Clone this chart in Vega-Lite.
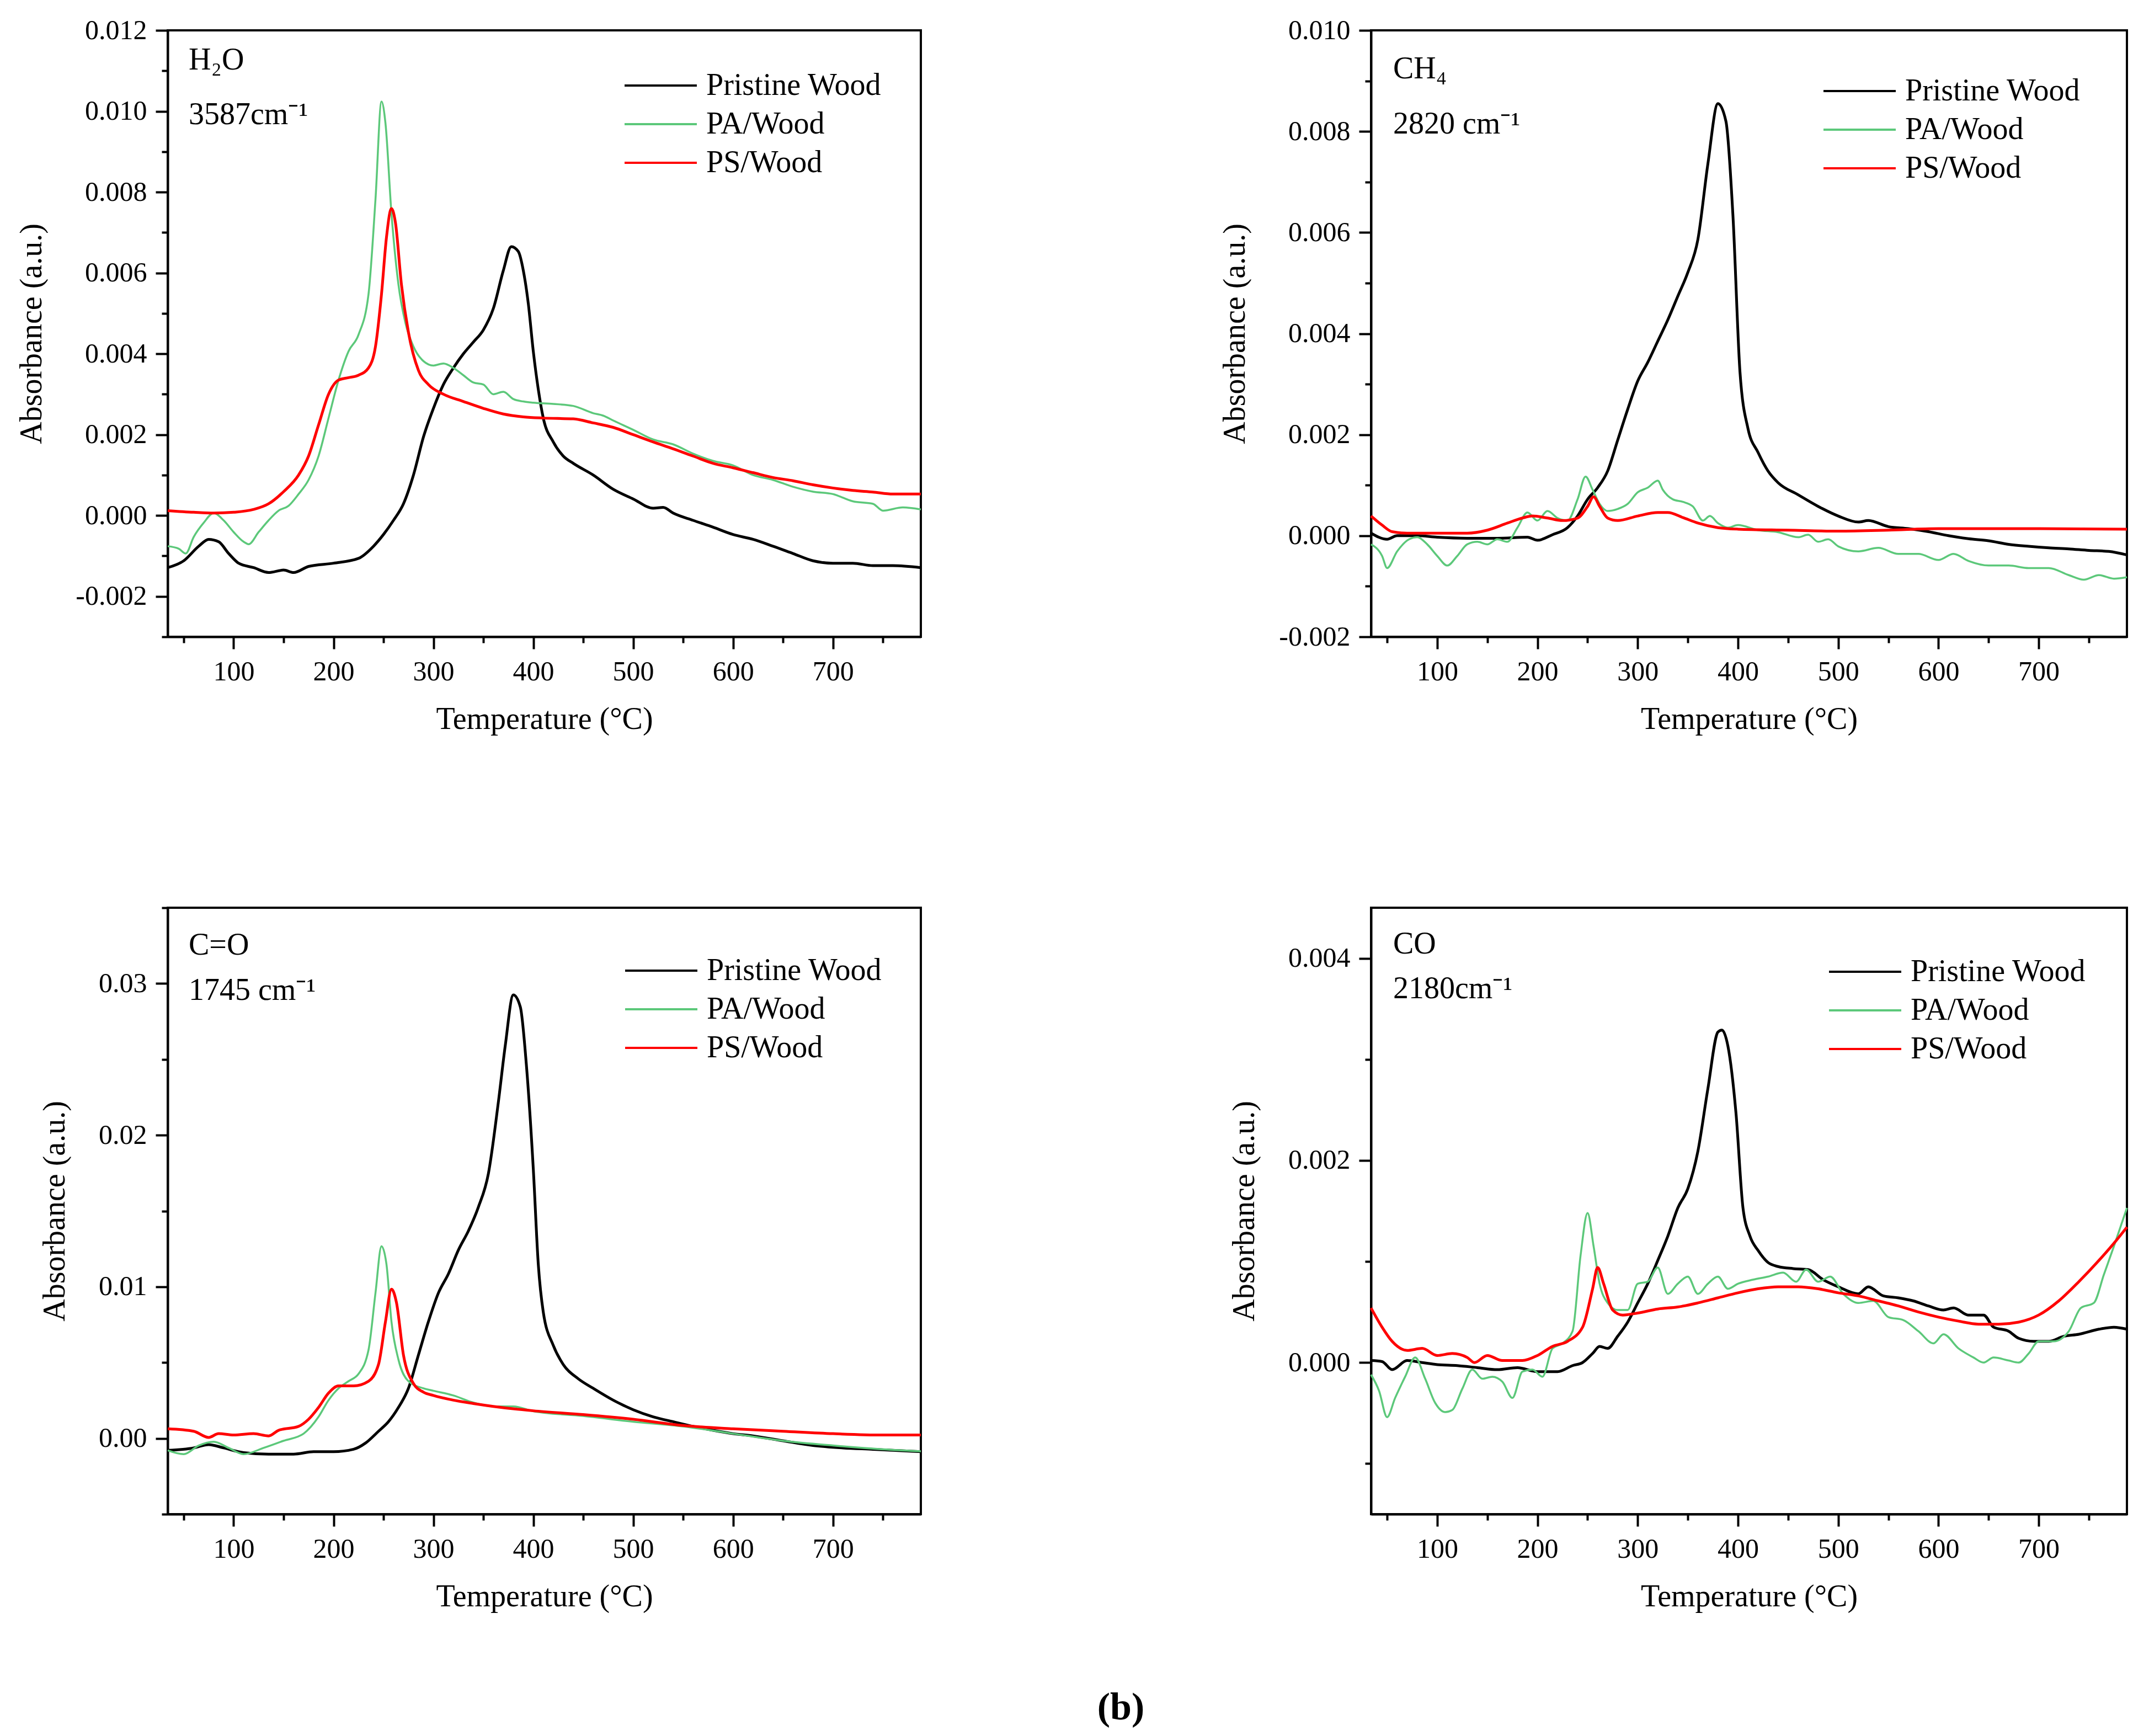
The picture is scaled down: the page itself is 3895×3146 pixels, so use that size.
{
  "$schema": "https://vega.github.io/schema/vega-lite/v6.json",
  "background": "white",
  "padding": {"left": 27, "top": 28, "right": 5, "bottom": 5},
  "title": {"text": "(b)", "orient": "bottom", "anchor": "middle", "fontSize": 70, "fontWeight": "bold", "font": "Liberation Serif", "color": "black", "offset": 138, "dx": 84},
  "config": {
    "font": "Liberation Serif",
    "view": {"stroke": "black", "strokeWidth": 4},
    "axis": {
      "grid": false, "domainColor": "black", "domainWidth": 4, "tickColor": "black", "tickWidth": 4,
      "labelFont": "Liberation Serif", "labelFontSize": 50, "labelColor": "black", "labelPadding": 16,
      "labelOverlap": false, "labelFlush": false, "labelBound": false,
      "titleFont": "Liberation Serif", "titleFontSize": 56, "titleFontWeight": "normal", "titleColor": "black"
    },
    "axisX": {"titlePadding": 34},
    "axisY": {"titlePadding": 50},
    "legend": {
      "title": null, "symbolType": "stroke", "symbolSize": 17161, "symbolStrokeWidth": 4,
      "labelFont": "Liberation Serif", "labelFontSize": 56, "labelColor": "black", "labelOffset": 15, "labelLimit": 0,
      "clipHeight": 56, "rowPadding": 14, "padding": 0
    },
    "text": {"font": "Liberation Serif", "fontSize": 56, "color": "black", "align": "left", "baseline": "middle"}
  },
  "resolve": {"scale": {"color": "independent"}, "legend": {"color": "independent"}},
  "datasets": {
    "h2o": [
      {"s":"Pristine Wood","T":34,"A":-0.00129},{"s":"Pristine Wood","T":50,"A":-0.00112},{"s":"Pristine Wood","T":65,"A":-0.00076},{"s":"Pristine Wood","T":75,"A":-0.00059},{"s":"Pristine Wood","T":85,"A":-0.00065},{"s":"Pristine Wood","T":95,"A":-0.00094},{"s":"Pristine Wood","T":105,"A":-0.00118},{"s":"Pristine Wood","T":120,"A":-0.00129},{"s":"Pristine Wood","T":135,"A":-0.00141},{"s":"Pristine Wood","T":150,"A":-0.00135},{"s":"Pristine Wood","T":160,"A":-0.00141},{"s":"Pristine Wood","T":175,"A":-0.00126},{"s":"Pristine Wood","T":200,"A":-0.00118},{"s":"Pristine Wood","T":225,"A":-0.00106},{"s":"Pristine Wood","T":240,"A":-0.00076},{"s":"Pristine Wood","T":250,"A":-0.00047},{"s":"Pristine Wood","T":260,"A":-0.00012},{"s":"Pristine Wood","T":270,"A":0.00029},{"s":"Pristine Wood","T":280,"A":0.001},{"s":"Pristine Wood","T":290,"A":0.00194},{"s":"Pristine Wood","T":300,"A":0.00265},{"s":"Pristine Wood","T":310,"A":0.00324},{"s":"Pristine Wood","T":320,"A":0.00365},{"s":"Pristine Wood","T":330,"A":0.004},{"s":"Pristine Wood","T":340,"A":0.00429},{"s":"Pristine Wood","T":350,"A":0.00459},{"s":"Pristine Wood","T":360,"A":0.00512},{"s":"Pristine Wood","T":370,"A":0.00606},{"s":"Pristine Wood","T":378,"A":0.00665},{"s":"Pristine Wood","T":385,"A":0.00653},{"s":"Pristine Wood","T":390,"A":0.00606},{"s":"Pristine Wood","T":395,"A":0.00524},{"s":"Pristine Wood","T":400,"A":0.00406},{"s":"Pristine Wood","T":405,"A":0.00312},{"s":"Pristine Wood","T":410,"A":0.00241},{"s":"Pristine Wood","T":420,"A":0.00182},{"s":"Pristine Wood","T":430,"A":0.00147},{"s":"Pristine Wood","T":440,"A":0.00129},{"s":"Pristine Wood","T":460,"A":0.001},{"s":"Pristine Wood","T":480,"A":0.00065},{"s":"Pristine Wood","T":500,"A":0.00041},{"s":"Pristine Wood","T":520,"A":0.00018},{"s":"Pristine Wood","T":530,"A":0.0002},{"s":"Pristine Wood","T":540,"A":0.00006},{"s":"Pristine Wood","T":560,"A":-0.00012},{"s":"Pristine Wood","T":580,"A":-0.00029},{"s":"Pristine Wood","T":600,"A":-0.00047},{"s":"Pristine Wood","T":620,"A":-0.00059},{"s":"Pristine Wood","T":640,"A":-0.00076},{"s":"Pristine Wood","T":660,"A":-0.00094},{"s":"Pristine Wood","T":680,"A":-0.00112},{"s":"Pristine Wood","T":700,"A":-0.00118},{"s":"Pristine Wood","T":720,"A":-0.00118},{"s":"Pristine Wood","T":740,"A":-0.00124},{"s":"Pristine Wood","T":760,"A":-0.00124},{"s":"Pristine Wood","T":788,"A":-0.00129},
      {"s":"PA/Wood","T":34,"A":-0.00076},{"s":"PA/Wood","T":45,"A":-0.00082},{"s":"PA/Wood","T":52,"A":-0.00094},{"s":"PA/Wood","T":60,"A":-0.00053},{"s":"PA/Wood","T":70,"A":-0.00018},{"s":"PA/Wood","T":80,"A":0.00006},{"s":"PA/Wood","T":90,"A":-0.00012},{"s":"PA/Wood","T":100,"A":-0.00041},{"s":"PA/Wood","T":110,"A":-0.00065},{"s":"PA/Wood","T":115,"A":-0.00071},{"s":"PA/Wood","T":125,"A":-0.00041},{"s":"PA/Wood","T":135,"A":-0.00012},{"s":"PA/Wood","T":145,"A":0.00012},{"s":"PA/Wood","T":155,"A":0.00024},{"s":"PA/Wood","T":165,"A":0.00053},{"s":"PA/Wood","T":175,"A":0.00088},{"s":"PA/Wood","T":185,"A":0.00147},{"s":"PA/Wood","T":195,"A":0.00241},{"s":"PA/Wood","T":205,"A":0.00335},{"s":"PA/Wood","T":215,"A":0.00406},{"s":"PA/Wood","T":225,"A":0.00447},{"s":"PA/Wood","T":235,"A":0.00547},{"s":"PA/Wood","T":242,"A":0.00782},{"s":"PA/Wood","T":248,"A":0.01024},{"s":"PA/Wood","T":252,"A":0.0097},{"s":"PA/Wood","T":258,"A":0.00747},{"s":"PA/Wood","T":265,"A":0.00571},{"s":"PA/Wood","T":272,"A":0.00476},{"s":"PA/Wood","T":280,"A":0.00418},{"s":"PA/Wood","T":290,"A":0.00382},{"s":"PA/Wood","T":300,"A":0.00371},{"s":"PA/Wood","T":310,"A":0.00376},{"s":"PA/Wood","T":320,"A":0.00365},{"s":"PA/Wood","T":330,"A":0.00347},{"s":"PA/Wood","T":340,"A":0.00329},{"s":"PA/Wood","T":350,"A":0.00324},{"s":"PA/Wood","T":360,"A":0.003},{"s":"PA/Wood","T":370,"A":0.00306},{"s":"PA/Wood","T":380,"A":0.00288},{"s":"PA/Wood","T":390,"A":0.00282},{"s":"PA/Wood","T":400,"A":0.00279},{"s":"PA/Wood","T":420,"A":0.00276},{"s":"PA/Wood","T":440,"A":0.00271},{"s":"PA/Wood","T":460,"A":0.00253},{"s":"PA/Wood","T":470,"A":0.00247},{"s":"PA/Wood","T":480,"A":0.00235},{"s":"PA/Wood","T":500,"A":0.00212},{"s":"PA/Wood","T":520,"A":0.00188},{"s":"PA/Wood","T":540,"A":0.00176},{"s":"PA/Wood","T":560,"A":0.00153},{"s":"PA/Wood","T":580,"A":0.00135},{"s":"PA/Wood","T":600,"A":0.00124},{"s":"PA/Wood","T":620,"A":0.001},{"s":"PA/Wood","T":640,"A":0.00088},{"s":"PA/Wood","T":660,"A":0.00071},{"s":"PA/Wood","T":680,"A":0.00059},{"s":"PA/Wood","T":700,"A":0.00053},{"s":"PA/Wood","T":720,"A":0.00035},{"s":"PA/Wood","T":740,"A":0.00029},{"s":"PA/Wood","T":750,"A":0.00012},{"s":"PA/Wood","T":770,"A":0.0002},{"s":"PA/Wood","T":788,"A":0.00015},
      {"s":"PS/Wood","T":34,"A":0.00012},{"s":"PS/Wood","T":60,"A":0.00008},{"s":"PS/Wood","T":80,"A":0.00006},{"s":"PS/Wood","T":100,"A":0.00008},{"s":"PS/Wood","T":120,"A":0.00015},{"s":"PS/Wood","T":135,"A":0.00029},{"s":"PS/Wood","T":150,"A":0.00059},{"s":"PS/Wood","T":165,"A":0.001},{"s":"PS/Wood","T":175,"A":0.00147},{"s":"PS/Wood","T":185,"A":0.00224},{"s":"PS/Wood","T":195,"A":0.003},{"s":"PS/Wood","T":205,"A":0.00335},{"s":"PS/Wood","T":215,"A":0.00341},{"s":"PS/Wood","T":225,"A":0.00347},{"s":"PS/Wood","T":235,"A":0.00365},{"s":"PS/Wood","T":242,"A":0.00418},{"s":"PS/Wood","T":248,"A":0.00547},{"s":"PS/Wood","T":253,"A":0.00688},{"s":"PS/Wood","T":258,"A":0.00759},{"s":"PS/Wood","T":262,"A":0.00724},{"s":"PS/Wood","T":268,"A":0.00571},{"s":"PS/Wood","T":275,"A":0.00453},{"s":"PS/Wood","T":285,"A":0.00359},{"s":"PS/Wood","T":295,"A":0.00324},{"s":"PS/Wood","T":310,"A":0.003},{"s":"PS/Wood","T":330,"A":0.00282},{"s":"PS/Wood","T":350,"A":0.00265},{"s":"PS/Wood","T":370,"A":0.00251},{"s":"PS/Wood","T":390,"A":0.00244},{"s":"PS/Wood","T":410,"A":0.00241},{"s":"PS/Wood","T":440,"A":0.00239},{"s":"PS/Wood","T":460,"A":0.00229},{"s":"PS/Wood","T":480,"A":0.00218},{"s":"PS/Wood","T":500,"A":0.002},{"s":"PS/Wood","T":520,"A":0.00182},{"s":"PS/Wood","T":540,"A":0.00165},{"s":"PS/Wood","T":560,"A":0.00147},{"s":"PS/Wood","T":580,"A":0.00129},{"s":"PS/Wood","T":600,"A":0.00118},{"s":"PS/Wood","T":620,"A":0.00106},{"s":"PS/Wood","T":640,"A":0.00094},{"s":"PS/Wood","T":660,"A":0.00086},{"s":"PS/Wood","T":680,"A":0.00076},{"s":"PS/Wood","T":700,"A":0.00068},{"s":"PS/Wood","T":720,"A":0.00062},{"s":"PS/Wood","T":740,"A":0.00058},{"s":"PS/Wood","T":760,"A":0.00053},{"s":"PS/Wood","T":788,"A":0.00053}
    ],
    "ch4": [
      {"s":"Pristine Wood","T":34,"A":0.00005},{"s":"Pristine Wood","T":50,"A":-0.00007},{"s":"Pristine Wood","T":60,"A":0},{"s":"Pristine Wood","T":80,"A":0},{"s":"Pristine Wood","T":100,"A":-0.00003},{"s":"Pristine Wood","T":130,"A":-0.00005},{"s":"Pristine Wood","T":160,"A":-0.00005},{"s":"Pristine Wood","T":190,"A":-0.00003},{"s":"Pristine Wood","T":200,"A":-0.00009},{"s":"Pristine Wood","T":215,"A":0.00002},{"s":"Pristine Wood","T":230,"A":0.00016},{"s":"Pristine Wood","T":240,"A":0.00039},{"s":"Pristine Wood","T":250,"A":0.00072},{"s":"Pristine Wood","T":260,"A":0.00095},{"s":"Pristine Wood","T":270,"A":0.00128},{"s":"Pristine Wood","T":280,"A":0.00189},{"s":"Pristine Wood","T":290,"A":0.0025},{"s":"Pristine Wood","T":300,"A":0.00306},{"s":"Pristine Wood","T":310,"A":0.00343},{"s":"Pristine Wood","T":320,"A":0.00385},{"s":"Pristine Wood","T":330,"A":0.00427},{"s":"Pristine Wood","T":340,"A":0.00474},{"s":"Pristine Wood","T":350,"A":0.00521},{"s":"Pristine Wood","T":360,"A":0.00586},{"s":"Pristine Wood","T":370,"A":0.00736},{"s":"Pristine Wood","T":380,"A":0.00855},{"s":"Pristine Wood","T":388,"A":0.0082},{"s":"Pristine Wood","T":395,"A":0.00633},{"s":"Pristine Wood","T":402,"A":0.00324},{"s":"Pristine Wood","T":410,"A":0.00212},{"s":"Pristine Wood","T":420,"A":0.00165},{"s":"Pristine Wood","T":430,"A":0.00128},{"s":"Pristine Wood","T":440,"A":0.00105},{"s":"Pristine Wood","T":460,"A":0.00081},{"s":"Pristine Wood","T":480,"A":0.00058},{"s":"Pristine Wood","T":500,"A":0.00039},{"s":"Pristine Wood","T":520,"A":0.00027},{"s":"Pristine Wood","T":530,"A":0.0003},{"s":"Pristine Wood","T":550,"A":0.00018},{"s":"Pristine Wood","T":570,"A":0.00014},{"s":"Pristine Wood","T":590,"A":0.00008},{"s":"Pristine Wood","T":610,"A":0},{"s":"Pristine Wood","T":630,"A":-0.00006},{"s":"Pristine Wood","T":650,"A":-0.0001},{"s":"Pristine Wood","T":670,"A":-0.00017},{"s":"Pristine Wood","T":690,"A":-0.00021},{"s":"Pristine Wood","T":710,"A":-0.00024},{"s":"Pristine Wood","T":730,"A":-0.00026},{"s":"Pristine Wood","T":750,"A":-0.00029},{"s":"Pristine Wood","T":770,"A":-0.00031},{"s":"Pristine Wood","T":788,"A":-0.00038},
      {"s":"PA/Wood","T":34,"A":-0.00017},{"s":"PA/Wood","T":45,"A":-0.0004},{"s":"PA/Wood","T":50,"A":-0.00064},{"s":"PA/Wood","T":60,"A":-0.00031},{"s":"PA/Wood","T":72,"A":-0.00007},{"s":"PA/Wood","T":80,"A":-0.00003},{"s":"PA/Wood","T":90,"A":-0.00017},{"s":"PA/Wood","T":100,"A":-0.0004},{"s":"PA/Wood","T":110,"A":-0.00059},{"s":"PA/Wood","T":120,"A":-0.0004},{"s":"PA/Wood","T":130,"A":-0.00017},{"s":"PA/Wood","T":140,"A":-0.00012},{"s":"PA/Wood","T":150,"A":-0.00017},{"s":"PA/Wood","T":160,"A":-0.00007},{"s":"PA/Wood","T":170,"A":-0.00012},{"s":"PA/Wood","T":180,"A":0.00016},{"s":"PA/Wood","T":190,"A":0.00046},{"s":"PA/Wood","T":200,"A":0.0003},{"s":"PA/Wood","T":210,"A":0.00049},{"s":"PA/Wood","T":220,"A":0.00035},{"s":"PA/Wood","T":230,"A":0.0003},{"s":"PA/Wood","T":240,"A":0.00072},{"s":"PA/Wood","T":248,"A":0.00117},{"s":"PA/Wood","T":255,"A":0.00091},{"s":"PA/Wood","T":262,"A":0.00063},{"s":"PA/Wood","T":270,"A":0.00049},{"s":"PA/Wood","T":280,"A":0.00053},{"s":"PA/Wood","T":290,"A":0.00063},{"s":"PA/Wood","T":300,"A":0.00086},{"s":"PA/Wood","T":310,"A":0.00095},{"s":"PA/Wood","T":320,"A":0.00109},{"s":"PA/Wood","T":325,"A":0.00091},{"s":"PA/Wood","T":335,"A":0.00072},{"s":"PA/Wood","T":345,"A":0.00067},{"s":"PA/Wood","T":355,"A":0.00058},{"s":"PA/Wood","T":365,"A":0.0003},{"s":"PA/Wood","T":372,"A":0.00039},{"s":"PA/Wood","T":380,"A":0.00025},{"s":"PA/Wood","T":390,"A":0.00016},{"s":"PA/Wood","T":400,"A":0.00021},{"s":"PA/Wood","T":420,"A":0.00011},{"s":"PA/Wood","T":440,"A":0.00007},{"s":"PA/Wood","T":460,"A":-0.00003},{"s":"PA/Wood","T":470,"A":0.00002},{"s":"PA/Wood","T":480,"A":-0.00012},{"s":"PA/Wood","T":490,"A":-0.00007},{"s":"PA/Wood","T":500,"A":-0.00021},{"s":"PA/Wood","T":520,"A":-0.00031},{"s":"PA/Wood","T":540,"A":-0.00024},{"s":"PA/Wood","T":560,"A":-0.00036},{"s":"PA/Wood","T":580,"A":-0.00036},{"s":"PA/Wood","T":600,"A":-0.00048},{"s":"PA/Wood","T":615,"A":-0.00036},{"s":"PA/Wood","T":630,"A":-0.0005},{"s":"PA/Wood","T":650,"A":-0.00059},{"s":"PA/Wood","T":670,"A":-0.00059},{"s":"PA/Wood","T":690,"A":-0.00064},{"s":"PA/Wood","T":710,"A":-0.00064},{"s":"PA/Wood","T":730,"A":-0.00078},{"s":"PA/Wood","T":745,"A":-0.00087},{"s":"PA/Wood","T":760,"A":-0.00078},{"s":"PA/Wood","T":775,"A":-0.00085},{"s":"PA/Wood","T":788,"A":-0.00082},
      {"s":"PS/Wood","T":34,"A":0.00039},{"s":"PS/Wood","T":45,"A":0.00021},{"s":"PS/Wood","T":55,"A":0.00008},{"s":"PS/Wood","T":70,"A":0.00005},{"s":"PS/Wood","T":100,"A":0.00005},{"s":"PS/Wood","T":130,"A":0.00005},{"s":"PS/Wood","T":150,"A":0.00011},{"s":"PS/Wood","T":170,"A":0.00025},{"s":"PS/Wood","T":185,"A":0.00035},{"s":"PS/Wood","T":195,"A":0.00039},{"s":"PS/Wood","T":210,"A":0.00035},{"s":"PS/Wood","T":225,"A":0.0003},{"s":"PS/Wood","T":240,"A":0.00035},{"s":"PS/Wood","T":250,"A":0.00058},{"s":"PS/Wood","T":256,"A":0.00077},{"s":"PS/Wood","T":262,"A":0.00058},{"s":"PS/Wood","T":270,"A":0.00035},{"s":"PS/Wood","T":280,"A":0.0003},{"s":"PS/Wood","T":300,"A":0.00039},{"s":"PS/Wood","T":320,"A":0.00046},{"s":"PS/Wood","T":330,"A":0.00046},{"s":"PS/Wood","T":345,"A":0.00036},{"s":"PS/Wood","T":360,"A":0.00025},{"s":"PS/Wood","T":380,"A":0.00016},{"s":"PS/Wood","T":400,"A":0.00013},{"s":"PS/Wood","T":450,"A":0.00011},{"s":"PS/Wood","T":500,"A":0.00009},{"s":"PS/Wood","T":550,"A":0.00011},{"s":"PS/Wood","T":600,"A":0.00014},{"s":"PS/Wood","T":650,"A":0.00014},{"s":"PS/Wood","T":700,"A":0.00014},{"s":"PS/Wood","T":788,"A":0.00013}
    ],
    "cdo": [
      {"s":"Pristine Wood","T":34,"A":-0.00079},{"s":"Pristine Wood","T":60,"A":-0.00063},{"s":"Pristine Wood","T":75,"A":-0.00041},{"s":"Pristine Wood","T":90,"A":-0.00063},{"s":"Pristine Wood","T":110,"A":-0.00094},{"s":"Pristine Wood","T":135,"A":-0.00104},{"s":"Pristine Wood","T":160,"A":-0.00104},{"s":"Pristine Wood","T":180,"A":-0.00088},{"s":"Pristine Wood","T":200,"A":-0.00088},{"s":"Pristine Wood","T":220,"A":-0.00072},{"s":"Pristine Wood","T":232,"A":-0.00031},{"s":"Pristine Wood","T":245,"A":0.00047},{"s":"Pristine Wood","T":255,"A":0.0011},{"s":"Pristine Wood","T":265,"A":0.00204},{"s":"Pristine Wood","T":275,"A":0.0033},{"s":"Pristine Wood","T":285,"A":0.0055},{"s":"Pristine Wood","T":295,"A":0.0077},{"s":"Pristine Wood","T":305,"A":0.00959},{"s":"Pristine Wood","T":315,"A":0.01085},{"s":"Pristine Wood","T":325,"A":0.01242},{"s":"Pristine Wood","T":335,"A":0.01368},{"s":"Pristine Wood","T":345,"A":0.01525},{"s":"Pristine Wood","T":355,"A":0.01745},{"s":"Pristine Wood","T":365,"A":0.02217},{"s":"Pristine Wood","T":372,"A":0.02594},{"s":"Pristine Wood","T":380,"A":0.02925},{"s":"Pristine Wood","T":387,"A":0.02846},{"s":"Pristine Wood","T":393,"A":0.02469},{"s":"Pristine Wood","T":400,"A":0.01777},{"s":"Pristine Wood","T":405,"A":0.01148},{"s":"Pristine Wood","T":410,"A":0.00833},{"s":"Pristine Wood","T":420,"A":0.00613},{"s":"Pristine Wood","T":430,"A":0.00487},{"s":"Pristine Wood","T":445,"A":0.00393},{"s":"Pristine Wood","T":460,"A":0.0033},{"s":"Pristine Wood","T":480,"A":0.00252},{"s":"Pristine Wood","T":500,"A":0.00189},{"s":"Pristine Wood","T":520,"A":0.00142},{"s":"Pristine Wood","T":540,"A":0.0011},{"s":"Pristine Wood","T":560,"A":0.00079},{"s":"Pristine Wood","T":580,"A":0.00053},{"s":"Pristine Wood","T":600,"A":0.00031},{"s":"Pristine Wood","T":620,"A":0.00016},{"s":"Pristine Wood","T":650,"A":-0.00016},{"s":"Pristine Wood","T":680,"A":-0.00047},{"s":"Pristine Wood","T":710,"A":-0.00063},{"s":"Pristine Wood","T":740,"A":-0.00072},{"s":"Pristine Wood","T":788,"A":-0.00088},
      {"s":"PA/Wood","T":34,"A":-0.00079},{"s":"PA/Wood","T":50,"A":-0.00104},{"s":"PA/Wood","T":65,"A":-0.00047},{"s":"PA/Wood","T":80,"A":-0.00022},{"s":"PA/Wood","T":95,"A":-0.00063},{"s":"PA/Wood","T":110,"A":-0.00104},{"s":"PA/Wood","T":130,"A":-0.00063},{"s":"PA/Wood","T":150,"A":-0.00016},{"s":"PA/Wood","T":170,"A":0.00031},{"s":"PA/Wood","T":185,"A":0.00142},{"s":"PA/Wood","T":195,"A":0.00252},{"s":"PA/Wood","T":205,"A":0.0033},{"s":"PA/Wood","T":215,"A":0.00377},{"s":"PA/Wood","T":225,"A":0.00425},{"s":"PA/Wood","T":235,"A":0.00582},{"s":"PA/Wood","T":242,"A":0.00959},{"s":"PA/Wood","T":248,"A":0.01267},{"s":"PA/Wood","T":253,"A":0.01148},{"s":"PA/Wood","T":258,"A":0.0077},{"s":"PA/Wood","T":265,"A":0.00519},{"s":"PA/Wood","T":275,"A":0.00377},{"s":"PA/Wood","T":290,"A":0.0033},{"s":"PA/Wood","T":300,"A":0.00314},{"s":"PA/Wood","T":320,"A":0.00283},{"s":"PA/Wood","T":340,"A":0.00236},{"s":"PA/Wood","T":360,"A":0.00211},{"s":"PA/Wood","T":380,"A":0.00211},{"s":"PA/Wood","T":400,"A":0.00179},{"s":"PA/Wood","T":450,"A":0.00148},{"s":"PA/Wood","T":500,"A":0.0011},{"s":"PA/Wood","T":550,"A":0.00079},{"s":"PA/Wood","T":600,"A":0.00031},{"s":"PA/Wood","T":650,"A":-0.00016},{"s":"PA/Wood","T":700,"A":-0.00047},{"s":"PA/Wood","T":750,"A":-0.00072},{"s":"PA/Wood","T":788,"A":-0.00085},
      {"s":"PS/Wood","T":34,"A":0.00063},{"s":"PS/Wood","T":60,"A":0.00047},{"s":"PS/Wood","T":75,"A":0.00006},{"s":"PS/Wood","T":85,"A":0.00031},{"s":"PS/Wood","T":100,"A":0.00022},{"s":"PS/Wood","T":120,"A":0.00031},{"s":"PS/Wood","T":135,"A":0.00016},{"s":"PS/Wood","T":145,"A":0.00053},{"s":"PS/Wood","T":165,"A":0.00079},{"s":"PS/Wood","T":175,"A":0.00126},{"s":"PS/Wood","T":185,"A":0.00204},{"s":"PS/Wood","T":195,"A":0.00299},{"s":"PS/Wood","T":205,"A":0.00346},{"s":"PS/Wood","T":220,"A":0.00346},{"s":"PS/Wood","T":235,"A":0.00377},{"s":"PS/Wood","T":245,"A":0.00487},{"s":"PS/Wood","T":252,"A":0.0077},{"s":"PS/Wood","T":258,"A":0.00984},{"s":"PS/Wood","T":263,"A":0.00896},{"s":"PS/Wood","T":270,"A":0.0055},{"s":"PS/Wood","T":280,"A":0.00362},{"s":"PS/Wood","T":290,"A":0.00305},{"s":"PS/Wood","T":300,"A":0.00283},{"s":"PS/Wood","T":320,"A":0.00252},{"s":"PS/Wood","T":340,"A":0.0023},{"s":"PS/Wood","T":360,"A":0.00211},{"s":"PS/Wood","T":380,"A":0.00195},{"s":"PS/Wood","T":400,"A":0.00182},{"s":"PS/Wood","T":450,"A":0.00157},{"s":"PS/Wood","T":500,"A":0.00126},{"s":"PS/Wood","T":550,"A":0.00085},{"s":"PS/Wood","T":600,"A":0.00063},{"s":"PS/Wood","T":650,"A":0.00047},{"s":"PS/Wood","T":700,"A":0.00031},{"s":"PS/Wood","T":750,"A":0.00022},{"s":"PS/Wood","T":788,"A":0.00022}
    ],
    "co": [
      {"s":"Pristine Wood","T":34,"A":0.00002},{"s":"Pristine Wood","T":45,"A":0.00001},{"s":"Pristine Wood","T":55,"A":-0.00007},{"s":"Pristine Wood","T":70,"A":0.00002},{"s":"Pristine Wood","T":85,"A":0},{"s":"Pristine Wood","T":100,"A":-0.00002},{"s":"Pristine Wood","T":120,"A":-0.00003},{"s":"Pristine Wood","T":140,"A":-0.00005},{"s":"Pristine Wood","T":160,"A":-0.00007},{"s":"Pristine Wood","T":180,"A":-0.00005},{"s":"Pristine Wood","T":200,"A":-0.00009},{"s":"Pristine Wood","T":220,"A":-0.00009},{"s":"Pristine Wood","T":235,"A":-0.00003},{"s":"Pristine Wood","T":245,"A":0},{"s":"Pristine Wood","T":255,"A":0.00009},{"s":"Pristine Wood","T":262,"A":0.00016},{"s":"Pristine Wood","T":270,"A":0.00014},{"s":"Pristine Wood","T":280,"A":0.00026},{"s":"Pristine Wood","T":290,"A":0.0004},{"s":"Pristine Wood","T":300,"A":0.00059},{"s":"Pristine Wood","T":310,"A":0.00078},{"s":"Pristine Wood","T":320,"A":0.00101},{"s":"Pristine Wood","T":330,"A":0.00125},{"s":"Pristine Wood","T":340,"A":0.00153},{"s":"Pristine Wood","T":350,"A":0.00172},{"s":"Pristine Wood","T":360,"A":0.00209},{"s":"Pristine Wood","T":370,"A":0.00271},{"s":"Pristine Wood","T":380,"A":0.00327},{"s":"Pristine Wood","T":384,"A":0.00329},{"s":"Pristine Wood","T":390,"A":0.00313},{"s":"Pristine Wood","T":398,"A":0.00247},{"s":"Pristine Wood","T":405,"A":0.00153},{"s":"Pristine Wood","T":412,"A":0.00125},{"s":"Pristine Wood","T":420,"A":0.00111},{"s":"Pristine Wood","T":430,"A":0.00099},{"s":"Pristine Wood","T":440,"A":0.00095},{"s":"Pristine Wood","T":455,"A":0.00093},{"s":"Pristine Wood","T":470,"A":0.00092},{"s":"Pristine Wood","T":485,"A":0.00082},{"s":"Pristine Wood","T":500,"A":0.00075},{"s":"Pristine Wood","T":520,"A":0.00068},{"s":"Pristine Wood","T":530,"A":0.00075},{"s":"Pristine Wood","T":545,"A":0.00066},{"s":"Pristine Wood","T":560,"A":0.00064},{"s":"Pristine Wood","T":575,"A":0.00061},{"s":"Pristine Wood","T":590,"A":0.00056},{"s":"Pristine Wood","T":605,"A":0.00052},{"s":"Pristine Wood","T":615,"A":0.00054},{"s":"Pristine Wood","T":630,"A":0.00047},{"s":"Pristine Wood","T":645,"A":0.00047},{"s":"Pristine Wood","T":655,"A":0.00035},{"s":"Pristine Wood","T":670,"A":0.00031},{"s":"Pristine Wood","T":680,"A":0.00024},{"s":"Pristine Wood","T":695,"A":0.00021},{"s":"Pristine Wood","T":710,"A":0.00021},{"s":"Pristine Wood","T":725,"A":0.00026},{"s":"Pristine Wood","T":740,"A":0.00028},{"s":"Pristine Wood","T":760,"A":0.00033},{"s":"Pristine Wood","T":775,"A":0.00035},{"s":"Pristine Wood","T":788,"A":0.00033},
      {"s":"PA/Wood","T":34,"A":-0.00012},{"s":"PA/Wood","T":42,"A":-0.00028},{"s":"PA/Wood","T":50,"A":-0.00054},{"s":"PA/Wood","T":58,"A":-0.00035},{"s":"PA/Wood","T":68,"A":-0.00014},{"s":"PA/Wood","T":78,"A":0.00005},{"s":"PA/Wood","T":88,"A":-0.00016},{"s":"PA/Wood","T":98,"A":-0.0004},{"s":"PA/Wood","T":108,"A":-0.00049},{"s":"PA/Wood","T":115,"A":-0.00047},{"s":"PA/Wood","T":125,"A":-0.00026},{"s":"PA/Wood","T":135,"A":-0.00007},{"s":"PA/Wood","T":145,"A":-0.00016},{"s":"PA/Wood","T":155,"A":-0.00014},{"s":"PA/Wood","T":165,"A":-0.00019},{"s":"PA/Wood","T":175,"A":-0.00035},{"s":"PA/Wood","T":185,"A":-0.00009},{"s":"PA/Wood","T":195,"A":-0.00007},{"s":"PA/Wood","T":205,"A":-0.00014},{"s":"PA/Wood","T":215,"A":0.00014},{"s":"PA/Wood","T":225,"A":0.00019},{"s":"PA/Wood","T":235,"A":0.00031},{"s":"PA/Wood","T":243,"A":0.00106},{"s":"PA/Wood","T":250,"A":0.00148},{"s":"PA/Wood","T":256,"A":0.00115},{"s":"PA/Wood","T":262,"A":0.00078},{"s":"PA/Wood","T":270,"A":0.00059},{"s":"PA/Wood","T":280,"A":0.00052},{"s":"PA/Wood","T":290,"A":0.00052},{"s":"PA/Wood","T":300,"A":0.00078},{"s":"PA/Wood","T":310,"A":0.0008},{"s":"PA/Wood","T":320,"A":0.00094},{"s":"PA/Wood","T":330,"A":0.00068},{"s":"PA/Wood","T":340,"A":0.00078},{"s":"PA/Wood","T":350,"A":0.00085},{"s":"PA/Wood","T":360,"A":0.00068},{"s":"PA/Wood","T":370,"A":0.00078},{"s":"PA/Wood","T":380,"A":0.00085},{"s":"PA/Wood","T":390,"A":0.00073},{"s":"PA/Wood","T":400,"A":0.00078},{"s":"PA/Wood","T":415,"A":0.00082},{"s":"PA/Wood","T":430,"A":0.00085},{"s":"PA/Wood","T":445,"A":0.00089},{"s":"PA/Wood","T":458,"A":0.0008},{"s":"PA/Wood","T":468,"A":0.00092},{"s":"PA/Wood","T":480,"A":0.0008},{"s":"PA/Wood","T":492,"A":0.00085},{"s":"PA/Wood","T":505,"A":0.00068},{"s":"PA/Wood","T":520,"A":0.00059},{"s":"PA/Wood","T":535,"A":0.00061},{"s":"PA/Wood","T":550,"A":0.00045},{"s":"PA/Wood","T":565,"A":0.00042},{"s":"PA/Wood","T":580,"A":0.00031},{"s":"PA/Wood","T":595,"A":0.00019},{"s":"PA/Wood","T":605,"A":0.00028},{"s":"PA/Wood","T":620,"A":0.00014},{"s":"PA/Wood","T":635,"A":0.00005},{"s":"PA/Wood","T":645,"A":0},{"s":"PA/Wood","T":655,"A":0.00005},{"s":"PA/Wood","T":670,"A":0.00002},{"s":"PA/Wood","T":680,"A":0},{"s":"PA/Wood","T":690,"A":0.00009},{"s":"PA/Wood","T":700,"A":0.00021},{"s":"PA/Wood","T":715,"A":0.00021},{"s":"PA/Wood","T":730,"A":0.00031},{"s":"PA/Wood","T":742,"A":0.00054},{"s":"PA/Wood","T":755,"A":0.00059},{"s":"PA/Wood","T":765,"A":0.00087},{"s":"PA/Wood","T":775,"A":0.00115},{"s":"PA/Wood","T":788,"A":0.00153},
      {"s":"PS/Wood","T":34,"A":0.00054},{"s":"PS/Wood","T":45,"A":0.00035},{"s":"PS/Wood","T":55,"A":0.00021},{"s":"PS/Wood","T":70,"A":0.00012},{"s":"PS/Wood","T":85,"A":0.00014},{"s":"PS/Wood","T":100,"A":0.00007},{"s":"PS/Wood","T":115,"A":0.00009},{"s":"PS/Wood","T":130,"A":0.00005},{"s":"PS/Wood","T":137,"A":0},{"s":"PS/Wood","T":150,"A":0.00007},{"s":"PS/Wood","T":165,"A":0.00002},{"s":"PS/Wood","T":185,"A":0.00002},{"s":"PS/Wood","T":200,"A":0.00007},{"s":"PS/Wood","T":215,"A":0.00016},{"s":"PS/Wood","T":230,"A":0.00021},{"s":"PS/Wood","T":245,"A":0.00035},{"s":"PS/Wood","T":255,"A":0.00073},{"s":"PS/Wood","T":260,"A":0.00094},{"s":"PS/Wood","T":266,"A":0.00078},{"s":"PS/Wood","T":275,"A":0.00052},{"s":"PS/Wood","T":285,"A":0.00047},{"s":"PS/Wood","T":300,"A":0.00049},{"s":"PS/Wood","T":320,"A":0.00053},{"s":"PS/Wood","T":340,"A":0.00055},{"s":"PS/Wood","T":360,"A":0.00059},{"s":"PS/Wood","T":380,"A":0.00064},{"s":"PS/Wood","T":400,"A":0.00069},{"s":"PS/Wood","T":420,"A":0.00073},{"s":"PS/Wood","T":440,"A":0.00075},{"s":"PS/Wood","T":460,"A":0.00075},{"s":"PS/Wood","T":480,"A":0.00073},{"s":"PS/Wood","T":500,"A":0.00069},{"s":"PS/Wood","T":520,"A":0.00066},{"s":"PS/Wood","T":540,"A":0.00061},{"s":"PS/Wood","T":560,"A":0.00056},{"s":"PS/Wood","T":580,"A":0.0005},{"s":"PS/Wood","T":600,"A":0.00045},{"s":"PS/Wood","T":620,"A":0.00041},{"s":"PS/Wood","T":640,"A":0.00038},{"s":"PS/Wood","T":660,"A":0.00038},{"s":"PS/Wood","T":680,"A":0.0004},{"s":"PS/Wood","T":700,"A":0.00047},{"s":"PS/Wood","T":720,"A":0.00061},{"s":"PS/Wood","T":740,"A":0.0008},{"s":"PS/Wood","T":760,"A":0.00101},{"s":"PS/Wood","T":775,"A":0.00118},{"s":"PS/Wood","T":788,"A":0.00134}
    ]
  },
  "columns": 2,
  "spacing": {"row": 285, "column": 527},
  "concat": [
    {
      "width": 1365, "height": 1099,
      "layer": [
        {
          "data": {"name": "h2o"},
          "mark": {"type": "line", "interpolate": "monotone"},
          "encoding": {
            "x": {"field": "T", "type": "quantitative", "title": "Temperature (°C)", "scale": {"domain": [34, 788], "nice": false, "zero": false},
              "axis": {"values": [50,100,150,200,250,300,350,400,450,500,550,600,650,700,750], "labelExpr": "datum.value % 100 == 0 ? datum.label : ''", "tickSize": {"condition": {"test": "datum.value % 100 == 0", "value": 22}, "value": 11}}},
            "y": {"field": "A", "type": "quantitative", "title": "Absorbance (a.u.)", "scale": {"domain": [-0.003, 0.012], "nice": false, "zero": false},
              "axis": {"values": [-0.003,-0.002,-0.001,0,0.001,0.002,0.003,0.004,0.005,0.006,0.007,0.008,0.009,0.01,0.011,0.012], "labelExpr": "abs(round(datum.value*1000)) % 2 == 0 ? replace(format(datum.value, '.3f'), '−', '-') : ''", "tickSize": {"condition": {"test": "abs(round(datum.value*1000)) % 2 == 0", "value": 22}, "value": 11}}},
            "color": {"field": "s", "type": "nominal", "scale": {"domain": ["Pristine Wood", "PA/Wood", "PS/Wood"], "range": ["#000000", "#5cc87a", "#ff0000"]},
              "legend": {"orient": "none", "legendX": 826, "legendY": 72}},
            "strokeWidth": {"field": "s", "type": "nominal", "scale": {"type": "ordinal", "domain": ["Pristine Wood", "PA/Wood", "PS/Wood"], "range": [5, 3.5, 5]}, "legend": null}
          }
        },
        {"data": {"values": [{}]}, "mark": {"type": "text"}, "encoding": {"x": {"datum": 55}, "y": {"datum": 0.01126}, "text": {"value": "H₂O"}}},
        {"data": {"values": [{}]}, "mark": {"type": "text"}, "encoding": {"x": {"datum": 55}, "y": {"datum": 0.00991}, "text": {"value": "3587cm⁻¹"}}}
      ]
    },
    {
      "width": 1370, "height": 1099,
      "layer": [
        {
          "data": {"name": "ch4"},
          "mark": {"type": "line", "interpolate": "monotone"},
          "encoding": {
            "x": {"field": "T", "type": "quantitative", "title": "Temperature (°C)", "scale": {"domain": [34, 788], "nice": false, "zero": false},
              "axis": {"values": [50,100,150,200,250,300,350,400,450,500,550,600,650,700,750], "labelExpr": "datum.value % 100 == 0 ? datum.label : ''", "tickSize": {"condition": {"test": "datum.value % 100 == 0", "value": 22}, "value": 11}}},
            "y": {"field": "A", "type": "quantitative", "title": "Absorbance (a.u.)", "scale": {"domain": [-0.002, 0.01], "nice": false, "zero": false},
              "axis": {"values": [-0.002,-0.001,0,0.001,0.002,0.003,0.004,0.005,0.006,0.007,0.008,0.009,0.01], "labelExpr": "abs(round(datum.value*1000)) % 2 == 0 ? replace(format(datum.value, '.3f'), '−', '-') : ''", "tickSize": {"condition": {"test": "abs(round(datum.value*1000)) % 2 == 0", "value": 22}, "value": 11}}},
            "color": {"field": "s", "type": "nominal", "scale": {"domain": ["Pristine Wood", "PA/Wood", "PS/Wood"], "range": ["#000000", "#5cc87a", "#ff0000"]},
              "legend": {"orient": "none", "legendX": 818, "legendY": 82}},
            "strokeWidth": {"field": "s", "type": "nominal", "scale": {"type": "ordinal", "domain": ["Pristine Wood", "PA/Wood", "PS/Wood"], "range": [5, 3.5, 5]}, "legend": null}
          }
        },
        {"data": {"values": [{}]}, "mark": {"type": "text"}, "encoding": {"x": {"datum": 56}, "y": {"datum": 0.00924}, "text": {"value": "CH₄"}}},
        {"data": {"values": [{}]}, "mark": {"type": "text"}, "encoding": {"x": {"datum": 56}, "y": {"datum": 0.00814}, "text": {"value": "2820 cm⁻¹"}}}
      ]
    },
    {
      "width": 1365, "height": 1099,
      "layer": [
        {
          "data": {"name": "cdo"},
          "mark": {"type": "line", "interpolate": "monotone"},
          "encoding": {
            "x": {"field": "T", "type": "quantitative", "title": "Temperature (°C)", "scale": {"domain": [34, 788], "nice": false, "zero": false},
              "axis": {"values": [50,100,150,200,250,300,350,400,450,500,550,600,650,700,750], "labelExpr": "datum.value % 100 == 0 ? datum.label : ''", "tickSize": {"condition": {"test": "datum.value % 100 == 0", "value": 22}, "value": 11}}},
            "y": {"field": "A", "type": "quantitative", "title": "Absorbance (a.u.)", "scale": {"domain": [-0.005, 0.035], "nice": false, "zero": false},
              "axis": {"values": [-0.005,0,0.005,0.01,0.015,0.02,0.025,0.03,0.035], "labelExpr": "abs(round(datum.value*1000)) % 10 == 0 ? format(datum.value, '.2f') : ''", "tickSize": {"condition": {"test": "abs(round(datum.value*1000)) % 10 == 0", "value": 22}, "value": 11}}},
            "color": {"field": "s", "type": "nominal", "scale": {"domain": ["Pristine Wood", "PA/Wood", "PS/Wood"], "range": ["#000000", "#5cc87a", "#ff0000"]},
              "legend": {"orient": "none", "legendX": 827, "legendY": 86}},
            "strokeWidth": {"field": "s", "type": "nominal", "scale": {"type": "ordinal", "domain": ["Pristine Wood", "PA/Wood", "PS/Wood"], "range": [5, 3.5, 5]}, "legend": null}
          }
        },
        {"data": {"values": [{}]}, "mark": {"type": "text"}, "encoding": {"x": {"datum": 55}, "y": {"datum": 0.03253}, "text": {"value": "C=O"}}},
        {"data": {"values": [{}]}, "mark": {"type": "text"}, "encoding": {"x": {"datum": 55}, "y": {"datum": 0.02954}, "text": {"value": "1745 cm⁻¹"}}}
      ]
    },
    {
      "width": 1370, "height": 1099,
      "layer": [
        {
          "data": {"name": "co"},
          "mark": {"type": "line", "interpolate": "monotone"},
          "encoding": {
            "x": {"field": "T", "type": "quantitative", "title": "Temperature (°C)", "scale": {"domain": [34, 788], "nice": false, "zero": false},
              "axis": {"values": [50,100,150,200,250,300,350,400,450,500,550,600,650,700,750], "labelExpr": "datum.value % 100 == 0 ? datum.label : ''", "tickSize": {"condition": {"test": "datum.value % 100 == 0", "value": 22}, "value": 11}}},
            "y": {"field": "A", "type": "quantitative", "title": "Absorbance (a.u.)", "scale": {"domain": [-0.0015, 0.0045], "nice": false, "zero": false},
              "axis": {"values": [-0.001,0,0.001,0.002,0.003,0.004], "labelExpr": "abs(round(datum.value*1000)) % 2 == 0 ? format(datum.value, '.3f') : ''", "tickSize": {"condition": {"test": "abs(round(datum.value*1000)) % 2 == 0", "value": 22}, "value": 11}}},
            "color": {"field": "s", "type": "nominal", "scale": {"domain": ["Pristine Wood", "PA/Wood", "PS/Wood"], "range": ["#000000", "#5cc87a", "#ff0000"]},
              "legend": {"orient": "none", "legendX": 828, "legendY": 88}},
            "strokeWidth": {"field": "s", "type": "nominal", "scale": {"type": "ordinal", "domain": ["Pristine Wood", "PA/Wood", "PS/Wood"], "range": [5, 3.5, 5]}, "legend": null}
          }
        },
        {"data": {"values": [{}]}, "mark": {"type": "text"}, "encoding": {"x": {"datum": 56}, "y": {"datum": 0.00414}, "text": {"value": "CO"}}},
        {"data": {"values": [{}]}, "mark": {"type": "text"}, "encoding": {"x": {"datum": 56}, "y": {"datum": 0.0037}, "text": {"value": "2180cm⁻¹"}}}
      ]
    }
  ]
}
